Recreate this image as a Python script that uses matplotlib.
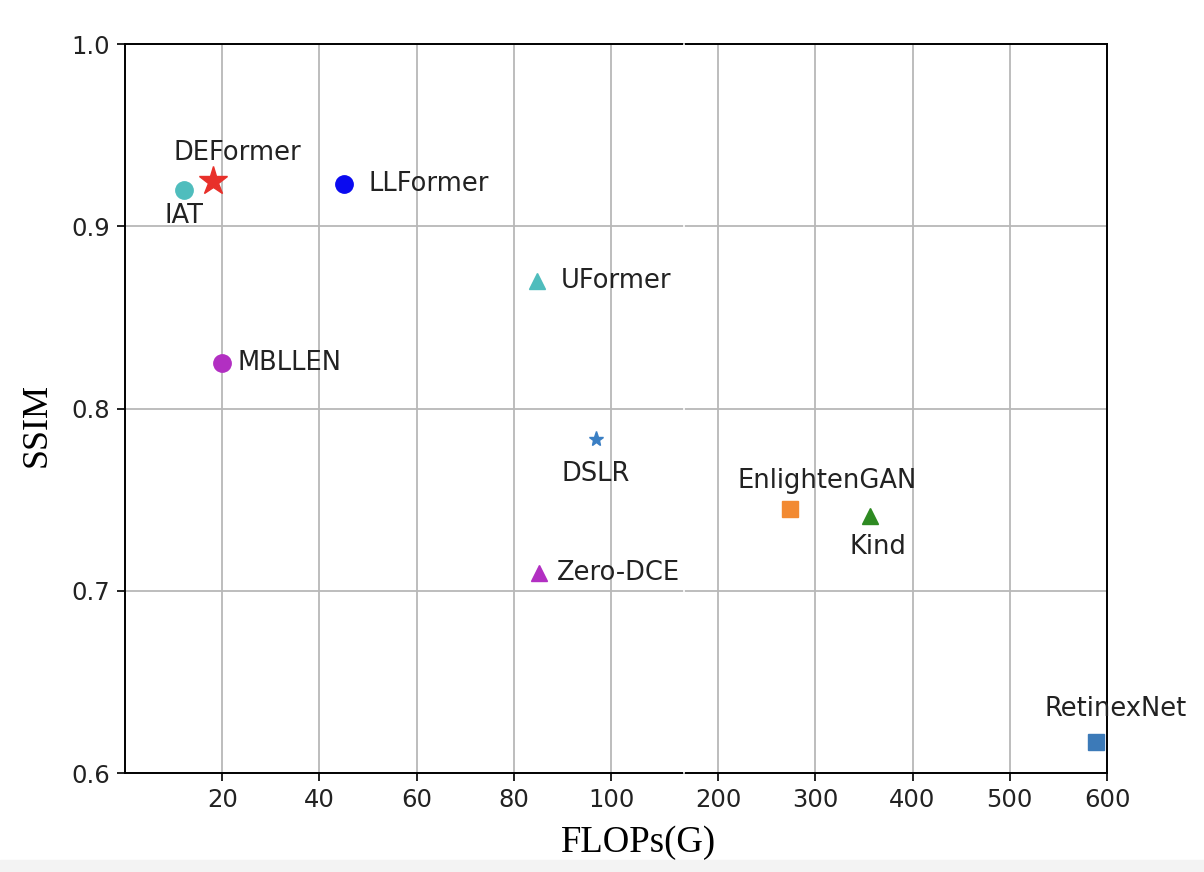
import numpy as np
from matplotlib import pyplot as plt

# data
methods = ['IAT', 'DEFormer', 'LLFormer', 'UFormer', 'MBLLEN', 'DSLR',
           'Zero-DCE', 'EnlightenGAN', 'Kind', 'RetinexNet']
flops = [12.2, 18.2, 45.0, 84.8, 20.0, 96.9, 85.2, 274, 356, 589]
ssim = [0.920, 0.925, 0.923, 0.870, 0.825, 0.783, 0.710, 0.745, 0.741, 0.617]
markers = ['o', '*', 'o', '^', 'o', '*', '^', 's', '^', 's']
colors = ['#4fbdbd', '#e8302a', '#0a0af0', '#4fbdbd', '#b22fc2', '#3a7fc4',
          '#b22fc2', '#f28a32', '#2e8a22', '#3c7ab8']
sizes = [12.5, 21, 12.5, 12, 12.5, 11, 12, 12, 12, 12]
# label offsets in points and alignment
offsets = [(0, -19), (17, 20), (18, 0), (17, 0), (11, 0), (0, -25),
           (13, 0), (27, 20), (6, -22), (14, 24)]
aligns = ['center', 'center', 'left', 'left', 'left', 'center',
          'left', 'center', 'center', 'center']

xticks = [20, 40, 60, 80, 100, 200, 300, 400, 500, 600]
yticks = [0.6, 0.7, 0.8, 0.9, 1.0]

# broken axis: 0-115 linear, then 165-600 squeezed by 5
knots_x = [0, 115, 165, 600]
knots_t = [0, 115, 115.0001, 202]


def fwd(x):
    return np.interp(x, knots_x, knots_t)


def inv(t):
    return np.interp(t, knots_t, knots_x)


fig = plt.figure(figsize=(12.04, 8.72), dpi=100)
ax = fig.add_axes([125 / 1204, 1 - 773 / 872, 982 / 1204, 729 / 872])
ax.set_xscale('function', functions=(fwd, inv))
ax.set_xlim(0, 600)
ax.set_ylim(0.6, 1.0)
ax.set_xticks(xticks)
ax.set_xticklabels([str(v) for v in xticks])
ax.set_yticks(yticks)
ax.set_yticklabels([f'{v:.1f}' for v in yticks])
ax.grid(True, color='#b8b8b8', linewidth=1.3)
ax.set_axisbelow(True)

for name, x, y, m, c, s, off, ha in zip(methods, flops, ssim, markers, colors,
                                         sizes, offsets, aligns):
    ax.plot([x], [y], marker=m, color=c, markersize=s, linestyle='none', zorder=3)
    ax.annotate(name, (x, y), xytext=off, textcoords='offset points',
                ha=ha, va='center', fontsize=18.5, color='#222222', zorder=4)

for sp in ax.spines.values():
    sp.set_linewidth(1.4)
ax.tick_params(labelsize=17.5, width=1.4, length=6, pad=5, colors='#222222')

# seam of the spliced axis
ax.axvline(140, color='white', linewidth=1.2, zorder=5, clip_on=False)

ax.set_xlabel('FLOPs(G)', family='Liberation Serif', fontsize=26.5, va='center')
ax.set_ylabel('SSIM', family='Liberation Serif', fontsize=26, va='center')
ax.xaxis.set_label_coords((639 - 125) / 982, (773 - 843) / 729)
ax.yaxis.set_label_coords((37 - 125) / 982, (773 - 425) / 729)

fig.patches.append(plt.Rectangle((0, 0), 1, 12 / 872, transform=fig.transFigure,
                                 color='#f3f3f3', zorder=0))

fig.savefig('out.png', dpi=100)
